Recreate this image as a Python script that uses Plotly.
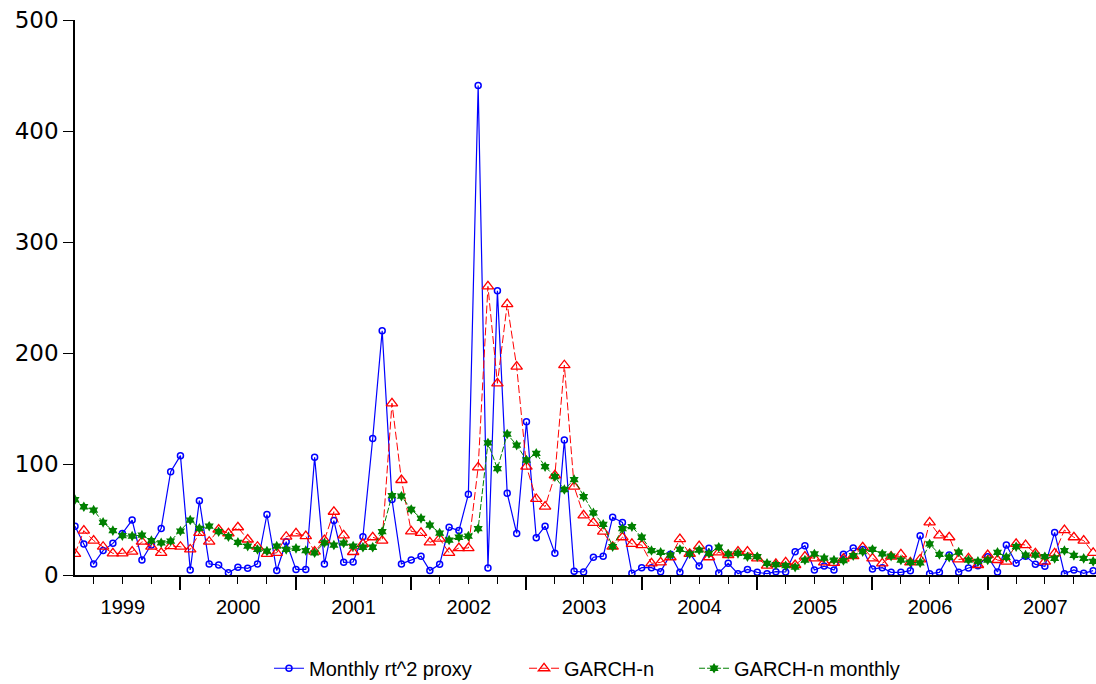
import pandas as pd
import plotly.graph_objects as go

# Monthly observations, Feb 1999 .. Dec 2007
start_month = "1999-02-01"
n_obs = 107
dates = pd.date_range(start_month, periods=n_obs, freq="MS")

proxy = [44, 28, 10, 22, 28.5, 37.5, 49.5, 13.5, 27, 42, 93, 107.5, 4.5, 67, 10, 9, 2, 7, 6, 10,
         54.5, 4, 30, 5, 5, 106, 10, 49,
         11.4, 11.7, 34.5, 123, 220, 68, 10, 13.5, 17, 4, 9.6, 43, 40, 72.7, 441, 6.3, 256, 73.6,
         37.5, 138, 33.6, 44, 19.5, 121.6, 3.3, 2.7, 16, 17,
         52, 47.4, 1.5, 6.6, 6.6, 3, 18.6, 2.4, 19.5, 8, 24, 1.8, 10.5, 1.2, 5, 2.4, 1.2, 3, 2.7,
         21, 26.4, 4.5, 8, 4.5, 18.6, 24.3, 23,
         5.4, 6.6, 2.4, 2.4, 3.9, 35.4, 1.2, 2.4, 18, 2.4, 6.3, 8.4, 16.5, 2.7, 27, 10.5, 17, 9.6,
         7.8, 38.4, 1.2, 4.5, 1.5, 3.9]

garch_n = [19, 40, 31, 25.5, 19.5, 19.5, 21, 30, 25.5, 20, 26, 25.5, 23, 38, 30, 41, 37.5, 43, 32,
           25.5, 19, 20, 34.5, 37.5, 35, 21, 31.5, 57,
           35.7, 20.7, 28, 34, 31, 154.7, 85.6, 39.3, 38, 29.4, 32.7, 20, 24.3, 24.3, 97, 260, 172.7,
           244, 187.7, 97.6, 68.5, 61.6, 89.8, 189, 79.6, 53.8, 47, 39,
           25.5, 34, 28, 27, 10.5, 11.4, 16, 32.4, 19, 26, 16, 20.4, 18, 21, 21, 15, 8.4, 10, 11.4,
           9, 16.5, 15, 11.4, 11, 14.7, 17, 25,
           15, 10.5, 16.5, 18.6, 11.4, 14, 47.4, 35.7, 34, 14, 15, 9, 18, 13.5, 12, 28, 27, 19.5,
           12, 19.5, 40.5, 34, 31, 20]

garch_n_monthly = [68, 61.5, 58.5, 47.4, 40, 35.4, 35, 36, 31, 29, 30.6, 39.6, 49.5, 42, 44, 39,
                   34.5, 29.4, 26, 23, 21.6, 26, 23, 24, 22, 20, 29, 27,
                   28.8, 26, 25, 25, 39, 71.5, 71, 59, 51, 45, 37.8, 31.5, 34, 35, 41.7, 119, 95.8,
                   127, 117, 103.6, 109.6, 97.6, 88.6, 77, 86, 70.6, 56, 45.6,
                   25.5, 41.7, 43.5, 34, 22, 20.4, 18, 23, 19, 22.5, 19.5, 25, 19, 19.5, 16.5, 16.5,
                   10.5, 9.3, 8.4, 7, 13.5, 19, 15.3, 13.5, 13, 17.4, 21,
                   23, 19, 17, 13.5, 11.4, 11, 28, 18.6, 16, 20.7, 13.5, 12.3, 13.5, 20.4, 16, 25.5,
                   18, 18, 16.5, 15, 22, 17.7, 15, 12.3]

series_names = ["Monthly rt^2 proxy", "GARCH-n", "GARCH-n monthly"]
y_ticks = [0, 100, 200, 300, 400, 500]

fig = go.Figure()
fig.add_trace(go.Scatter(
    x=dates, y=proxy, name=series_names[0], mode="lines+markers", legend="legend",
    line=dict(color="#0000FF", width=1.2),
    marker=dict(symbol="circle-open", size=6, color="#0000FF", line=dict(width=1.5)),
))
fig.add_trace(go.Scatter(
    x=dates, y=garch_n, name=series_names[1], mode="lines+markers", legend="legend2",
    line=dict(color="#FF0000", width=1, dash="8px,3px"),
    marker=dict(symbol="triangle-up-open", size=10, color="#FF0000", line=dict(width=1.3)),
))
fig.add_trace(go.Scatter(
    x=dates, y=garch_n_monthly, name=series_names[2], mode="lines+markers", legend="legend3",
    line=dict(color="#008000", width=1, dash="6px,2px"),
    marker=dict(symbol="hexagram", size=8, color="#008000", line=dict(width=0)),
))

legend_font = dict(family="Liberation Sans, Arial", size=20, color="black")


def legend_at(xp):
    return dict(orientation="h", x=xp, xanchor="left", y=-0.168, yanchor="middle",
                font=legend_font, bgcolor="rgba(0,0,0,0)", borderwidth=0)


fig.update_layout(
    width=1096, height=684,
    margin=dict(l=75, r=0, t=20, b=109, autoexpand=False),
    paper_bgcolor="white", plot_bgcolor="white",
    font=dict(family="Liberation Sans, Arial, sans-serif", color="black"),
    showlegend=True,
    legend=legend_at(0.190),
    legend2=legend_at(0.4398),
    legend3=legend_at(0.6063),
)
fig.update_xaxes(
    type="date", range=["1999-02-01", "2007-12-10"],
    showgrid=False, zeroline=False, automargin=False,
    showline=True, linecolor="black", linewidth=1.5,
    ticks="outside", ticklen=13, tickwidth=1.5, tickcolor="black",
    tick0="2000-01-01", dtick="M12", tickformat="%Y", ticklabelmode="period",
    tickfont=dict(size=20, color="black"),
    minor=dict(ticks="outside", ticklen=7, tickwidth=1, tickcolor="black",
               tick0="2000-01-01", dtick="M3", showgrid=False),
)
fig.update_yaxes(
    range=[0, 500], tickvals=y_ticks,
    showgrid=False, zeroline=False, automargin=False,
    showline=True, linecolor="black", linewidth=1.5,
    ticks="outside", ticklen=10, tickwidth=1, tickcolor="black",
    tickfont=dict(family="DejaVu Sans", size=23, color="black"),
)

fig.write_html(
    "out.html",
    config={"displayModeBar": False},
    post_script="document.body.style.margin='0';document.body.style.overflow='hidden';",
)
